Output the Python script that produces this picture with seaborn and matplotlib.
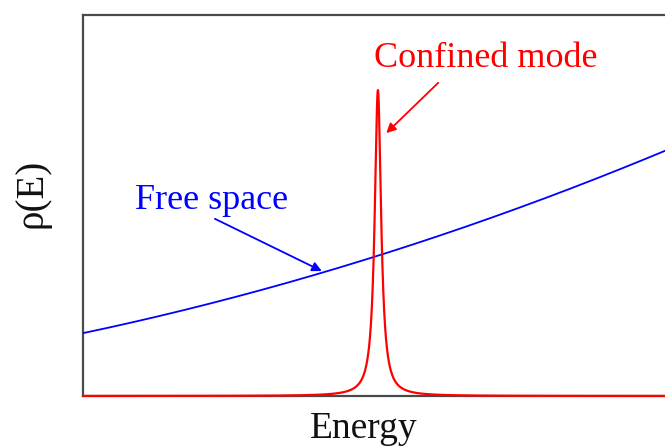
import numpy as np
import pandas as pd
import matplotlib
matplotlib.use("Agg")
import matplotlib.pyplot as plt
import seaborn as sns

# Energy grid (arbitrary units) and model parameters for the two densities of states
energy = np.linspace(1.0, 2.0, 4001)
free_space_coeff = 0.165          # rho_free = coeff * E^2
mode_center = 1.494               # confined cavity mode energy
mode_halfwidth = 0.0065           # Lorentzian half width
mode_height = 0.803               # peak density of the confined mode

labels = {"free": "Free space", "mode": "Confined mode",
          "x": "Energy", "y": "\u03c1(E)"}

rho_free = free_space_coeff * energy ** 2
rho_mode = mode_height / (1.0 + ((energy - mode_center) / mode_halfwidth) ** 2)

df = pd.DataFrame({"E": energy, "free": rho_free, "mode": rho_mode})

sns.set_style("white")
plt.rcParams["font.family"] = ["Liberation Serif", "DejaVu Serif"]

W, H = 665, 448
fig = plt.figure(figsize=(W / 100, H / 100), dpi=100)
left, right, top, bottom = 83, 680, 15, 396
ax = fig.add_axes([left / W, 1 - bottom / H, (right - left) / W, (bottom - top) / H])

sns.lineplot(data=df, x="E", y="free", ax=ax, color="#0000ff", lw=1.3, zorder=3)
sns.lineplot(data=df, x="E", y="mode", ax=ax, color="#ff0000", lw=1.6, zorder=4,
             clip_on=False)

ax.set_xlim(1.0, 2.0)
ax.set_ylim(0.0, 1.0)
ax.set_xticks([])
ax.set_yticks([])
for s in ax.spines.values():
    s.set_color("#4a4a4a")
    s.set_linewidth(1.6)
    s.set_zorder(2)

# annotations
ax.text(1.675, 0.864, labels["mode"], ha="center", va="baseline",
        color="#ff0000", fontsize=26, zorder=5)
ax.annotate("", xy=(1.508, 0.690), xytext=(1.595, 0.822),
            arrowprops=dict(arrowstyle="-|>", color="#ff0000", lw=1.3,
                            mutation_scale=14, shrinkA=0, shrinkB=0))
ax.text(1.216, 0.491, labels["free"], ha="center", va="baseline",
        color="#0000ff", fontsize=26, zorder=5)
ax.annotate("", xy=(1.400, 0.328), xytext=(1.221, 0.465),
            arrowprops=dict(arrowstyle="-|>", color="#0000ff", lw=1.3,
                            mutation_scale=14, shrinkA=0, shrinkB=0))

ax.set_xlabel(labels["x"], fontsize=27, va="baseline", color="#111111")
ax.xaxis.set_label_coords((364 - left) / (right - left), (bottom - 438) / (bottom - top))
ax.set_ylabel(labels["y"], fontsize=28, va="center", ha="center", color="#111111")
ax.yaxis.set_label_coords((32 - left) / (right - left), (bottom - 193) / (bottom - top))

fig.savefig("out.png", dpi=100)
